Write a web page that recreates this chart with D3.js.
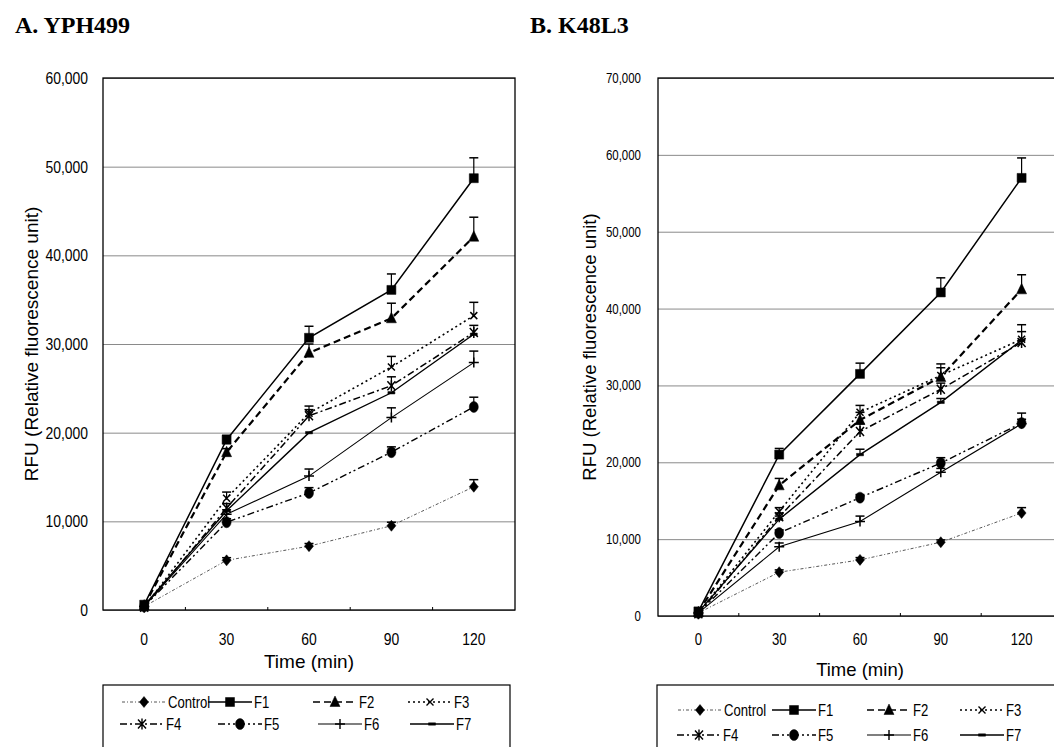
<!DOCTYPE html>
<html><head><meta charset="utf-8">
<script src="https://cdn.jsdelivr.net/npm/d3@7"></script>
<style>
body{margin:0;background:#fff;}
svg{display:block;}
text{font-family:"Liberation Sans",Arial,sans-serif;}
</style></head>
<body>
<svg id="chart" width="1054" height="747"></svg>
<script>
// ---------- data ----------
const times = ["0", "30", "60", "90", "120"];
const seriesNames = ["Control", "F1", "F2", "F3", "F4", "F5", "F6", "F7"];
const yTicksA = [0, 10000, 20000, 30000, 40000, 50000, 60000];
const yTicksB = [0, 10000, 20000, 30000, 40000, 50000, 60000, 70000];

// Panel A: YPH499
const aControl = [400, 5600, 7200, 9500, 13900];
const aF1 = [600, 19200, 30700, 36100, 48700];
const aF2 = [500, 17800, 29000, 32900, 42100];
const aF3 = [300, 12600, 22200, 27400, 33200];
const aF4 = [300, 11500, 21900, 25300, 31300];
const aF5 = [400, 9900, 13200, 17800, 22900];
const aF6 = [400, 10800, 15100, 21700, 27900];
const aF7 = [500, 11200, 20000, 24500, 31100];
// upward error (SD)
const aErrControl = [0, 300, 300, 400, 800];
const aErrF1 = [0, 500, 1300, 1800, 2300];
const aErrF2 = [0, 400, 1000, 1700, 2200];
const aErrF3 = [0, 700, 800, 1200, 1500];
const aErrF4 = [0, 500, 700, 1000, 800];
const aErrF5 = [0, 400, 600, 600, 1100];
const aErrF6 = [0, 500, 800, 1100, 1300];
const aErrF7 = [0, 0, 0, 0, 0];

// Panel B: K48L3
const bControl = [400, 5700, 7300, 9600, 13400];
const bF1 = [600, 21000, 31500, 42100, 57000];
const bF2 = [500, 17000, 25500, 31100, 42500];
const bF3 = [400, 13600, 26500, 31300, 36000];
const bF4 = [300, 12900, 24000, 29500, 35600];
const bF5 = [400, 10800, 15400, 19900, 25100];
const bF6 = [400, 9000, 12300, 18700, 25000];
const bF7 = [500, 12600, 21000, 27800, 35900];
const bErrControl = [0, 300, 300, 300, 700];
const bErrF1 = [0, 800, 1400, 1900, 2600];
const bErrF2 = [0, 900, 1000, 1200, 1900];
const bErrF3 = [0, 500, 900, 1500, 1900];
const bErrF4 = [0, 500, 1000, 800, 1400];
const bErrF5 = [0, 400, 400, 700, 1300];
const bErrF6 = [0, 500, 700, 500, 600];
const bErrF7 = [0, 400, 700, 500, 0];

// ---------- styles ----------
const styles = {
  Control: {dash: "3,2,1,2", width: 0.9, color: "#444", marker: "diamond"},
  F1: {dash: null, width: 1.5, color: "#000", marker: "square"},
  F2: {dash: "7,4", width: 2.2, color: "#000", marker: "triangle"},
  F3: {dash: "2,3", width: 1.6, color: "#000", marker: "x"},
  F4: {dash: "7,3,2,3", width: 1.5, color: "#000", marker: "asterisk"},
  F5: {dash: "7,3,2,3,2,3", width: 1.4, color: "#000", marker: "circle"},
  F6: {dash: null, width: 1.1, color: "#000", marker: "plus"},
  F7: {dash: null, width: 1.4, color: "#000", marker: "bar"}
};
const NARROW = 0.82;

function markerPath(type) {
  switch (type) {
    case "diamond": return "M0,-5.5L4.5,0L0,5.5L-4.5,0Z";
    case "square": return "M-4.5,-4.5H4.5V4.5H-4.5Z";
    case "triangle": return "M0,-6L5,4.5H-5Z";
    case "x": return "M-3.5,-3.5L3.5,3.5M3.5,-3.5L-3.5,3.5";
    case "asterisk": return "M-4,-4.5L4,4.5M4,-4.5L-4,4.5M0,-5.5V5.5";
    case "circle": return "M0,-5.5A4.5,5.5 0 1,1 0,5.5A4.5,5.5 0 1,1 0,-5.5Z";
    case "plus": return "M-5,0H5M0,-5V5";
    case "bar": return "M-3.5,-1.2H3.5V1.2H-3.5Z";
  }
}
const filled = {diamond: true, square: true, triangle: true, circle: true, bar: true};

// emulate a narrow typeface by horizontal scaling
function condense(sel) {
  sel.each(function() {
    const t = d3.select(this);
    const xv = +(t.attr("x") || 0);
    t.attr("x", xv / NARROW).attr("transform", `scale(${NARROW},1)`);
  });
}

const svg = d3.select("#chart");

function drawPanel(p) {
  const g = svg.append("g");
  const x = d3.scaleBand().domain(times).range([p.left, p.right]);
  const y = d3.scaleLinear().domain([0, p.yMax]).range([p.bottom, p.top]);
  const cx = t => x(t) + x.bandwidth() / 2;

  // title
  g.append("text").attr("x", p.titleX).attr("y", 33)
    .style("font-family", "'Liberation Serif','Times New Roman',serif")
    .attr("font-weight", "bold").attr("font-size", 24).text(p.title);

  // gridlines
  g.append("g").attr("transform", `translate(${p.left},0)`)
    .call(d3.axisLeft(y).tickValues(p.yTicks).tickSize(-(p.right - p.left)).tickFormat(""))
    .call(s => s.select(".domain").remove())
    .call(s => s.selectAll("line").attr("stroke", "#8a8a8a").attr("stroke-width", 1));

  // y labels
  g.append("g").attr("transform", `translate(${p.left},0)`)
    .call(d3.axisLeft(y).tickValues(p.yTicks).tickSize(0).tickPadding(p.yPad).tickFormat(d3.format(",")))
    .call(s => s.select(".domain").remove())
    .call(s => s.selectAll("text").attr("font-size", p.yFont).attr("fill", "#000")
      .style("font-family", "'Liberation Sans',Arial,sans-serif").call(condense));

  // x labels
  g.append("g").attr("transform", `translate(0,${p.bottom})`)
    .call(d3.axisBottom(x).tickSize(0).tickPadding(p.xPad))
    .call(s => s.select(".domain").remove())
    .call(s => s.selectAll("text").attr("font-size", p.xFont).attr("fill", "#000")
      .style("font-family", "'Liberation Sans',Arial,sans-serif").call(condense));

  // small inner tick marks between categories
  g.append("g").selectAll("line").data(times.slice(1)).join("line")
    .attr("x1", t => x(t)).attr("x2", t => x(t))
    .attr("y1", p.bottom).attr("y2", p.bottom - 3)
    .attr("stroke", "#000").attr("stroke-width", 1);

  // frame
  g.append("rect").attr("x", p.left).attr("y", p.top)
    .attr("width", p.right - p.left).attr("height", p.bottom - p.top)
    .attr("fill", "none").attr("stroke", "#000").attr("stroke-width", 1.3);

  // axis titles
  g.append("text").attr("x", (p.left + p.right) / 2 + p.xTitleDx).attr("y", p.bottom + p.xTitleDy)
    .attr("text-anchor", "middle").attr("font-size", p.titleFont).text("Time (min)");
  g.append("text")
    .attr("transform", `translate(${p.yTitleX},${(p.top + p.bottom) / 2}) rotate(-90)`)
    .attr("text-anchor", "middle").attr("font-size", p.titleFont).text("RFU (Relative fluorescence unit)");

  const line = d3.line().x((d, i) => cx(times[i])).y(d => y(d));

  const order = ["Control", "F7", "F6", "F5", "F4", "F3", "F2", "F1"];
  order.forEach(name => {
    const st = styles[name];
    const vals = p.series[name];
    const errs = p.errors[name];
    const sg = g.append("g");
    sg.append("path").datum(vals).attr("d", line).attr("fill", "none")
      .attr("stroke", st.color).attr("stroke-width", st.width)
      .attr("stroke-dasharray", st.dash);
    vals.forEach((v, i) => {
      if (!errs[i]) return;
      const xx = cx(times[i]);
      sg.append("line").attr("x1", xx).attr("x2", xx).attr("y1", y(v)).attr("y2", y(v + errs[i]))
        .attr("stroke", "#000").attr("stroke-width", 1.2);
      sg.append("line").attr("x1", xx - 4.5).attr("x2", xx + 4.5).attr("y1", y(v + errs[i])).attr("y2", y(v + errs[i]))
        .attr("stroke", "#000").attr("stroke-width", 1.5);
    });
    sg.selectAll("path.m").data(vals).join("path").attr("class", "m")
      .attr("transform", (d, i) => `translate(${cx(times[i])},${y(d)})`)
      .attr("d", markerPath(st.marker))
      .attr("fill", filled[st.marker] ? "#000" : "none")
      .attr("stroke", "#000").attr("stroke-width", filled[st.marker] ? 0.5 : 1.5);
  });

  // legend
  const lg = g.append("g");
  lg.append("rect").attr("x", p.legX).attr("y", 685).attr("width", p.legW).attr("height", 80)
    .attr("fill", "none").attr("stroke", "#000").attr("stroke-width", 1.2);
  seriesNames.forEach((name, k) => {
    const row = k < 4 ? 0 : 1;
    const col = k % 4;
    const x0 = p.legX + p.legCols[row][col];
    const yy = p.legRows[row];
    const st = styles[name];
    lg.append("line").attr("x1", x0).attr("x2", x0 + 44).attr("y1", yy).attr("y2", yy)
      .attr("stroke", st.color).attr("stroke-width", Math.min(st.width, 1.5)).attr("stroke-dasharray", st.dash);
    lg.append("path").attr("transform", `translate(${x0 + 22},${yy})`)
      .attr("d", markerPath(st.marker))
      .attr("fill", filled[st.marker] ? "#000" : "none")
      .attr("stroke", "#000").attr("stroke-width", filled[st.marker] ? 0.5 : 1.4);
    lg.append("text").attr("x", x0 + 46).attr("y", yy).attr("dy", "0.36em")
      .attr("font-size", 16).text(name).call(condense);
  });
}

function seriesObj(arrs) {
  const o = {};
  seriesNames.forEach((n, i) => o[n] = arrs[i]);
  return o;
}

drawPanel({
  title: "A. YPH499", titleX: 15,
  left: 103, right: 515, top: 78, bottom: 610, yMax: 60000, yTicks: yTicksA,
  yPad: 15, yFont: 17, xFont: 17, xPad: 23, xTitleDx: 0, xTitleDy: 58, yTitleX: 38, titleFont: 19,
  series: seriesObj([aControl, aF1, aF2, aF3, aF4, aF5, aF6, aF7]),
  errors: seriesObj([aErrControl, aErrF1, aErrF2, aErrF3, aErrF4, aErrF5, aErrF6, aErrF7]),
  legX: 103, legW: 407, legRows: [702, 724],
  legCols: [[19, 105, 210, 305], [17, 115, 215, 307]]
});

drawPanel({
  title: "B. K48L3", titleX: 530,
  left: 658, right: 1062, top: 78, bottom: 616, yMax: 70000, yTicks: yTicksB,
  yPad: 17, yFont: 14, xFont: 16, xPad: 18, xTitleDx: 0, xTitleDy: 60, yTitleX: 596, titleFont: 18.5,
  series: seriesObj([bControl, bF1, bF2, bF3, bF4, bF5, bF6, bF7]),
  errors: seriesObj([bErrControl, bErrF1, bErrF2, bErrF3, bErrF4, bErrF5, bErrF6, bErrF7]),
  legX: 657, legW: 420, legRows: [710, 735],
  legCols: [[21, 115, 210, 303], [20, 115, 210, 303]]
});
</script>
</body></html>
